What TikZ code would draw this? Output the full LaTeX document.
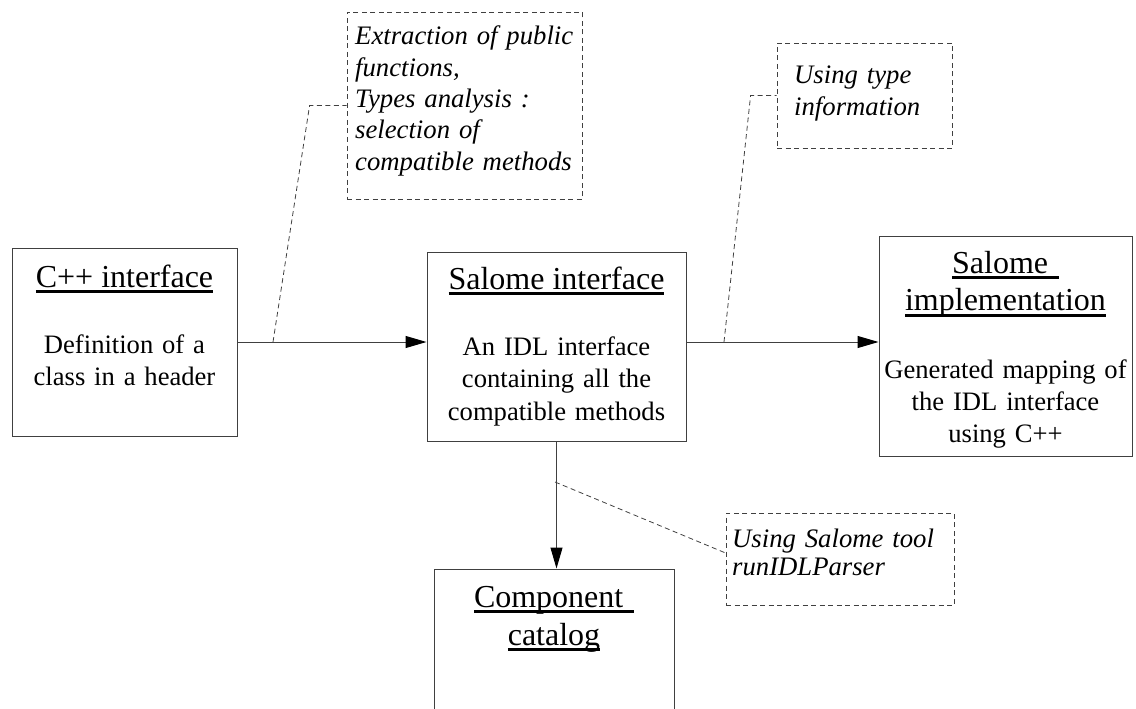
\documentclass[tikz,border=0pt]{standalone}
\usepackage{fontspec}
\setmainfont{Liberation Serif}
\usetikzlibrary{arrows.meta}

% thick underline as in the titles
\newcommand\ttlu[1]{\setbox0\hbox{#1}\leavevmode\rlap{\rule[-6pt]{\wd0}{2.6pt}}\box0}

\tikzset{
  box/.style={draw=black!75, line width=1pt, inner sep=0pt},
  callout/.style={draw=black!75, line width=.8pt, dash pattern=on 5pt off 3.5pt, inner sep=0pt},
  ttl/.style={inner sep=0pt, anchor=base, align=center, font=\fontsize{32}{37.5}\selectfont},
  txt/.style={inner sep=0pt, anchor=base, align=center, font=\fontsize{26.6}{32.5}\selectfont},
  note/.style={inner sep=0pt, anchor=base west, align=left, font=\fontsize{26.7}{31.3}\selectfont\itshape},
  flow/.style={draw=black!75, line width=1pt, -{Triangle[length=21pt,width=12pt,color=black]}},
  leader/.style={draw=black!75, line width=.8pt, dash pattern=on 5pt off 3.5pt}
}

\begin{document}
\begin{tikzpicture}[x=1pt,y=-1pt]
\clip (0,0) rectangle (1136,709);

% the four boxes
\node[box, minimum width=225, minimum height=188] (cpp) at (124.5,342) {};
\node[ttl] (cppT) at (124.5,287) {\ttlu{C++ interface}};
\node[txt, text width=220] (cppB) at (124.5,353) {Definition of a\\class in a header};

\node[box, minimum width=259, minimum height=189] (sif) at (556.5,346.5) {};
\node[ttl] (sifT) at (556.5,289) {\ttlu{Salome interface}};
\node[txt, text width=250] (sifB) at (556.5,355) {An IDL interface\\containing all the\\compatible methods};

\node[box, minimum width=253, minimum height=220] (simpl) at (1005.5,346) {};
\node[ttl, text width=245] (simplT) at (1005.5,273) {\ttlu{Salome\ }\\\ttlu{implementation}};
\node[txt, text width=250, font=\fontsize{26.6}{32}\selectfont] (simplB) at (1005.5,378) {Generated mapping of\\the IDL interface\\using C++};

\node[box, minimum width=240, minimum height=191] (cat) at (554,664.5) {};
\node[ttl, text width=230, font=\fontsize{32}{38}\selectfont] (catT) at (554,607) {\ttlu{Component\ }\\\ttlu{catalog}};

% dashed notes
\node[callout, minimum width=235, minimum height=187] (n1) at (464.5,105.5) {};
\node[note, text width=226] (n1T) at (355,45) {Extraction of public\\functions,\\Types analysis :\\selection of\\compatible methods};

\node[callout, minimum width=175, minimum height=105] (n2) at (864.5,95.5) {};
\node[note, text width=150, font=\fontsize{26.7}{32}\selectfont\itshape] (n2T) at (794,84) {Using type\\information};

\node[callout, minimum width=228, minimum height=92] (n3) at (840,559) {};
\node[note, text width=220, font=\fontsize{26.7}{28}\selectfont\itshape] (n3T) at (732,547) {Using Salome tool\\runIDLParser};

% flow
\draw[flow] (cpp.east) -- (cpp.east -| sif.west);
\draw[flow] (cpp.east -| sif.east) -- (cpp.east -| simpl.west);
\draw[flow] (sif.south) -- (sif.south |- cat.north);

% leaders
\coordinate (p1) at (273,342);
\coordinate (p2) at (724,342);
\coordinate (p3) at (555,482);
\draw[leader] (p1) -- ([xshift=-37]n1.west) -- (n1.west);
\draw[leader] (p2) -- ([xshift=-26]n2.west) -- (n2.west);
\draw[leader] (p3) -- ([yshift=6]n3.west);

\end{tikzpicture}
\end{document}
